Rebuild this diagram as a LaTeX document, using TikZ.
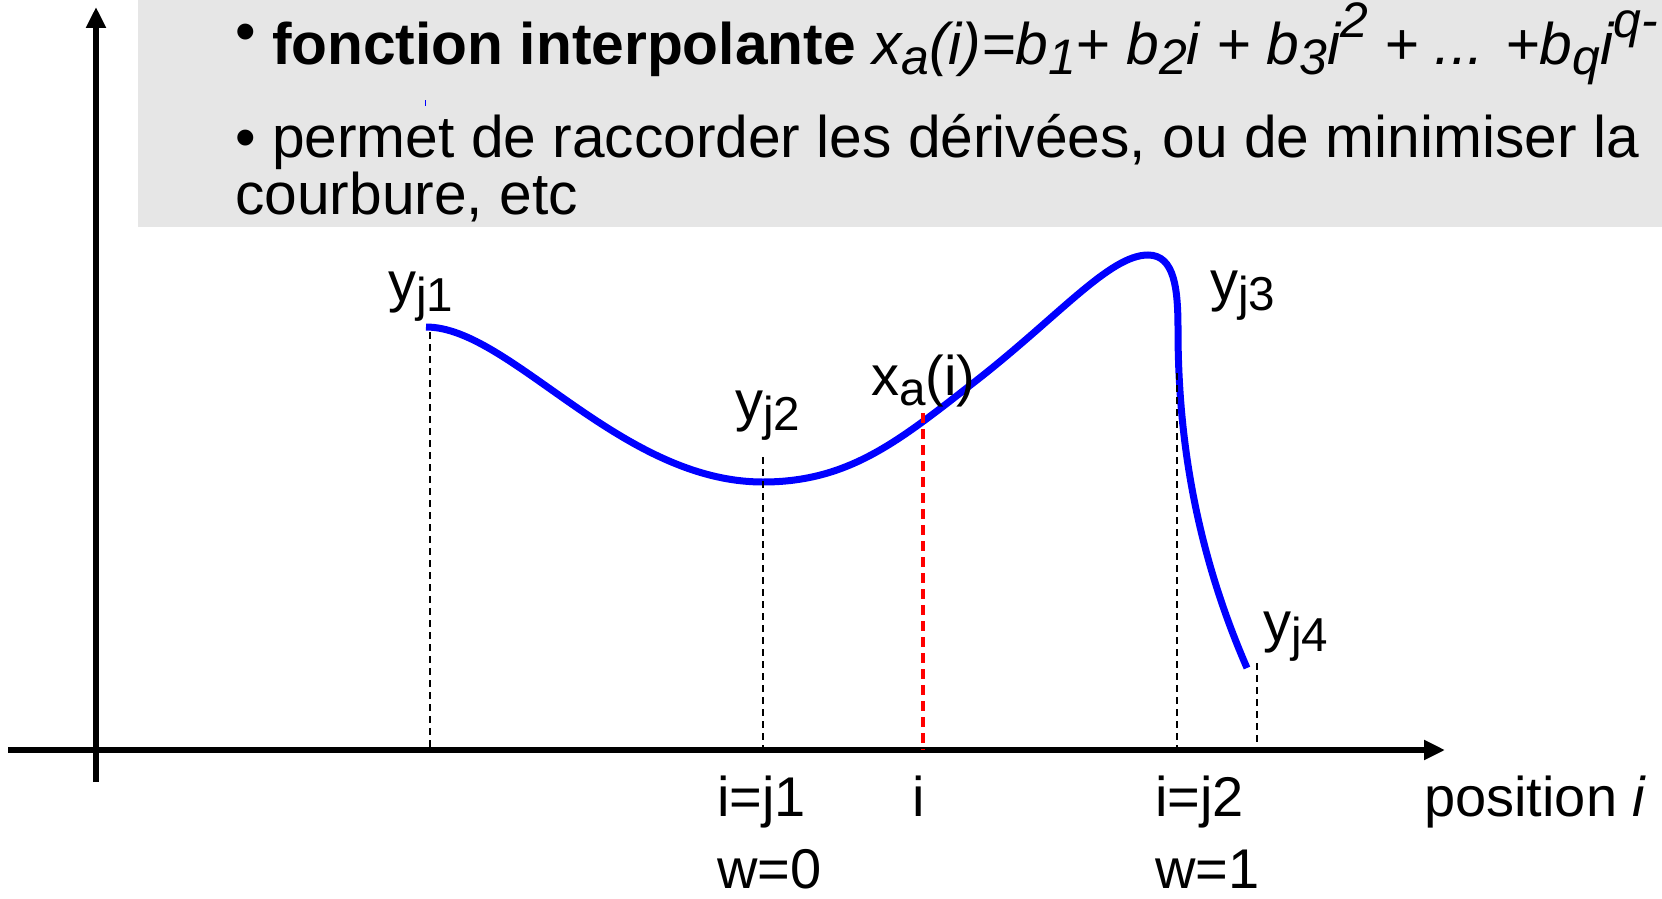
\documentclass[tikz,border=0pt]{standalone}
\usepackage{fontspec}
\setmainfont{Liberation Sans}
\usetikzlibrary{arrows.meta}
\definecolor{boxgray}{RGB}{230,230,230}
\definecolor{curveblue}{RGB}{0,0,255}
\definecolor{markred}{RGB}{255,0,0}
\newcommand{\lowtxt}[1]{\raisebox{-0.18em}{\scalebox{0.85}{#1}}}
\newcommand{\hightxt}[1]{\raisebox{0.45em}{\scalebox{0.85}{#1}}}
\tikzset{
  axis/.style={line width=6.5pt, -{Triangle[length=21pt,width=19pt]}},
  curve/.style={line width=7pt, draw=curveblue},
  guide/.style={line width=1.8pt, dash pattern=on 7pt off 5pt},
  redguide/.style={line width=3.5pt, draw=markred, dash pattern=on 10pt off 6pt},
  headtxt/.style={font=\fontsize{58.7}{60}\selectfont, inner sep=0pt, anchor=base west},
  lbl/.style={font=\fontsize{56}{60}\selectfont, inner sep=0pt, anchor=base west},
}
\begin{document}
\begin{tikzpicture}[x=1pt, y=-1pt]
  \useasboundingbox (0,0) rectangle (1662,899);

  % Header
  \fill[boxgray] (138,0) rectangle (1662,227);
  \node[headtxt] (head1) at (235,64) {\raisebox{0.22em}{•} \textbf{fonction interpolante}
    \textit{x\lowtxt{a}(i)=b\lowtxt{1}+ b\lowtxt{2}i + b\lowtxt{3}i\hightxt{2} + ... +b\lowtxt{q}i\hightxt{q-}}};
  \node[headtxt] (head2) at (235,157) {• permet de raccorder les dérivées, ou de minimiser la};
  \node[headtxt] (head3) at (235,214) {courbure, etc};
  \draw[curveblue, line width=1pt] (425,100) -- (425,106);

  % Axes
  \coordinate (origin) at (96,750);
  \coordinate (ybot) at (96,782);
  \coordinate (ytop) at (96,7);
  \coordinate (xleft) at (8,750);
  \coordinate (xright) at (1445,750);
  \draw[axis] (ybot) -- (ytop);
  \draw[axis] (xleft) -- (xright);

  % Interpolating curve
  \coordinate (p1) at (426,327);
  \coordinate (p2) at (763,482);
  \coordinate (p3) at (1178,330);
  \coordinate (p4) at (1247,668);
  \draw[curve] (p1) .. controls (510,327) and (620,482) .. (p2)
    .. controls (850,482) and (900,440) .. (977,380)
    .. controls (1060,315) and (1110,255) .. (1148,255)
    .. controls (1175,255) and (1178,290) .. (p3)
    .. controls (1178,450) and (1200,560) .. (p4);

  % Drop lines
  \coordinate (d1) at (430,332);
  \coordinate (d2) at (763,457);
  \coordinate (di) at (923,413);
  \coordinate (d3) at (1177,373);
  \coordinate (d4) at (1257,663);
  \draw[guide] (d1) -- (d1 |- origin);
  \draw[guide] (d2) -- (d2 |- origin);
  \draw[guide] (d3) -- (d3 |- origin);
  \draw[guide] (d4) -- (d4 |- origin);
  \draw[redguide] (di) -- (di |- origin);

  % Labels
  \node[lbl] (lyj1) at (388,301) {y\lowtxt{j1}};
  \node[lbl] (lyj2) at (735,420) {y\lowtxt{j2}};
  \node[lbl] (lyj3) at (1210,300) {y\lowtxt{j3}};
  \node[lbl] (lyj4) at (1263,641) {y\lowtxt{j4}};
  \node[lbl] (lxa) at (871,395) {x\lowtxt{a}(i)};
  \node[lbl] (lj1) at (717,816) {i=j1};
  \node[lbl] (lw0) at (717,888) {w=0};
  \node[lbl, anchor=base] (li) at (919,816) {i};
  \node[lbl] (lj2) at (1155,816) {i=j2};
  \node[lbl] (lw1) at (1155,888) {w=1};
  \node[lbl] (lpos) at (1424,816) {position \textit{i}};
\end{tikzpicture}
\end{document}
